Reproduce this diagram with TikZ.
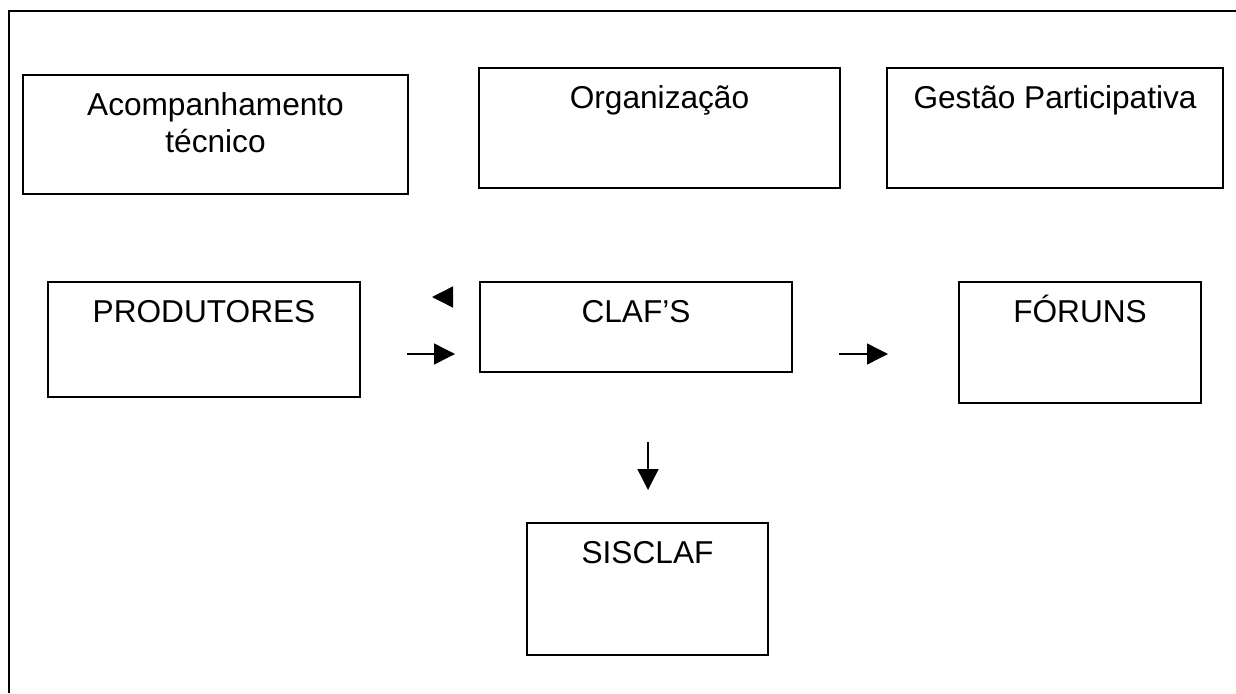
\documentclass[tikz,border=0pt]{standalone}
\usepackage{fontspec}
\setmainfont{Liberation Sans}
\usetikzlibrary{arrows.meta,positioning}

\tikzset{
	caixa/.style={draw,line width=0.8pt,inner sep=0pt},
	rotulo/.style={anchor=base,yshift=-0.82cm,align=center,inner sep=0pt,
		font=\fontsize{18}{21}\selectfont},
	seta/.style={-{Triangle[length=0.42cm,width=0.42cm]},line width=0.8pt}
}

\begin{document}
\begin{tikzpicture}[x=0.02cm,y=-0.02cm]
				\useasboundingbox (0,0) rectangle (1236,693);
				% moldura
				\draw[line width=1.2pt] (9,693) -- (9,11) -- (1236,11);
				% linha de cima
				\node[caixa,minimum width=7.7cm,minimum height=2.38cm,
					label={[rotulo,yshift=-0.74cm]north:Acompanhamento\\técnico}] (acomp) at (215.5,134.5) {};
				\node[caixa,minimum width=7.22cm,minimum height=2.4cm,
					label={[rotulo]north:Organização}] (org) at (659.5,128) {};
				\node[caixa,minimum width=6.72cm,minimum height=2.4cm,
					label={[rotulo]north:Gestão Participativa}] (gestao) at (1055,128) {};
				% linha do meio
				\node[caixa,minimum width=6.24cm,minimum height=2.3cm,
					label={[rotulo]north:PRODUTORES}] (prod) at (204,339.5) {};
				\node[caixa,minimum width=6.24cm,minimum height=1.8cm,
					label={[rotulo]north:CLAF’S}] (clafs) at (636,327) {};
				\node[caixa,minimum width=4.84cm,minimum height=2.42cm,
					label={[rotulo]north:FÓRUNS}] (foruns) at (1080,342.5) {};
				% embaixo
				\node[caixa,minimum width=4.82cm,minimum height=2.64cm,
					label={[rotulo]north:SISCLAF}] (sisclaf) at (647.5,589) {};
				% setas
				\coordinate (volta-a) at (451,297);
				\coordinate (volta-b) at (432,297);
				\coordinate (prod-a) at (407,354);
				\coordinate (prod-b) at (455,354);
				\coordinate (claf-a) at (839,354);
				\coordinate (claf-b) at (888,354);
				\coordinate (sis-a) at (648,442);
				\coordinate (sis-b) at (648,490);
				\draw[seta] (volta-a) -- (volta-b);
				\draw[seta] (prod-a) -- (prod-b);
				\draw[seta] (claf-a) -- (claf-b);
				\draw[seta] (sis-a) -- (sis-b);
\end{tikzpicture}
\end{document}
